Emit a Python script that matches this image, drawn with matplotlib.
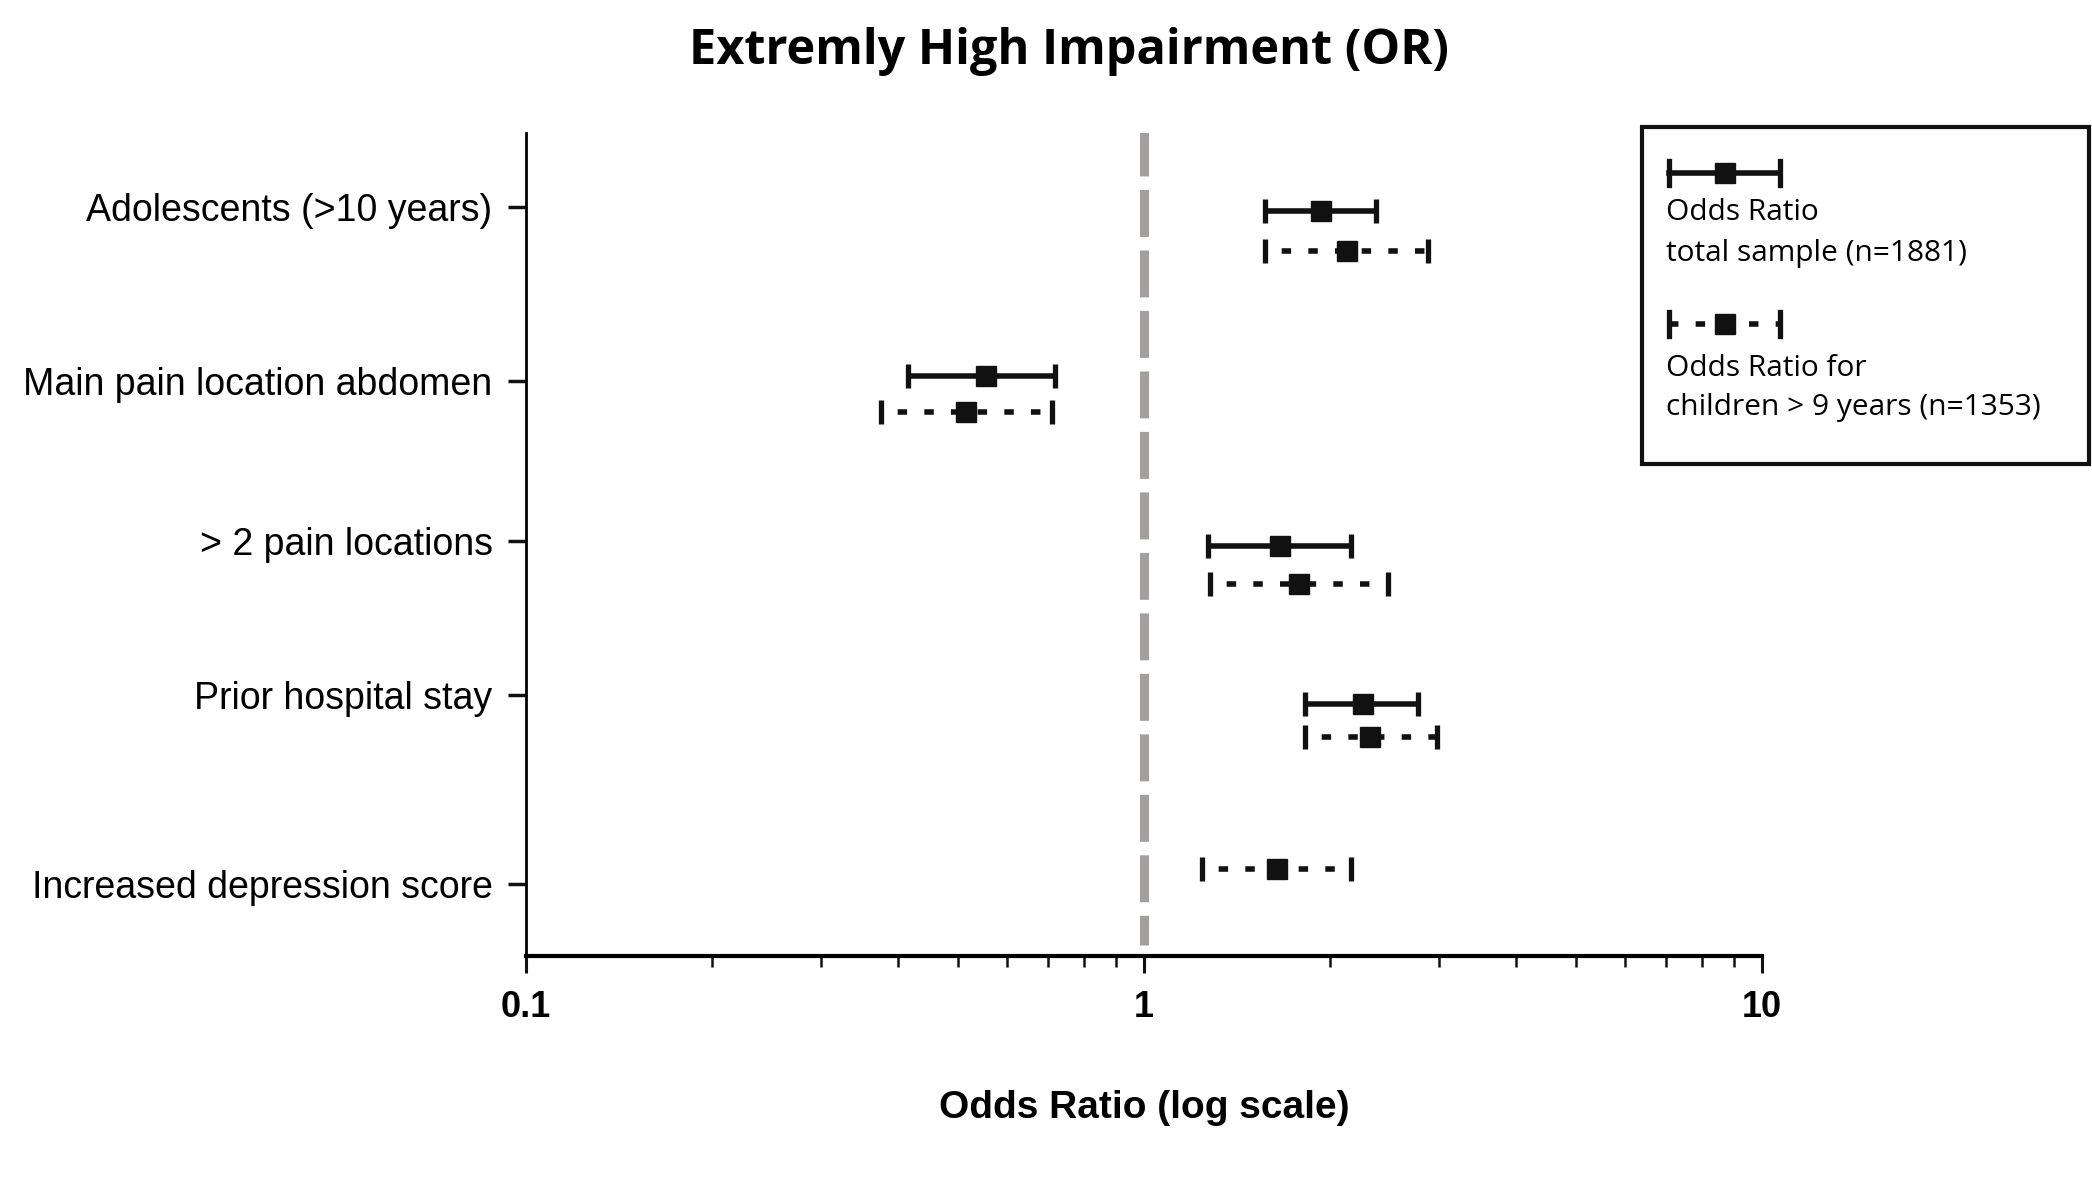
import matplotlib
matplotlib.use("Agg")
import matplotlib.pyplot as plt
from matplotlib.patches import Rectangle
from matplotlib.lines import Line2D

# rows (y positions in row units, 0 = first row)
categories = ["Adolescents (>10 years)", "Main pain location abdomen",
              "> 2 pain locations", "Prior hospital stay",
              "Increased depression score"]
cat_pos = [0.0, 1.0, 1.92, 2.81, 3.90]

# total sample (n=1881)
tot_y = [0.02, 0.97, 1.95, 2.86]
tot_or = [1.93, 0.556, 1.66, 2.26]
tot_lo = [1.57, 0.415, 1.27, 1.82]
tot_hi = [2.37, 0.717, 2.16, 2.78]

# children > 9 years (n=1353)
old_y = [0.25, 1.18, 2.17, 3.05, 3.81]
old_or = [2.13, 0.516, 1.78, 2.32, 1.64]
old_lo = [1.57, 0.376, 1.28, 1.82, 1.24]
old_hi = [2.88, 0.71, 2.48, 2.98, 2.16]

plt.rcParams["font.family"] = ["Liberation Sans", "DejaVu Sans"]

fig = plt.figure(figsize=(20.92, 11.96), dpi=100)
ax = fig.add_axes([0.2514, 0.2003, 0.8423 - 0.2514, 0.889 - 0.2003])

ax.set_xscale("log")
ax.set_xlim(0.1, 10)
ax.set_ylim(4.315, -0.43)

# reference line at OR = 1
ax.plot([1, 1], [-0.45, 4.25], color="#a39f9f", lw=6.5,
        dashes=(5.2, 1.5), solid_capstyle="butt", dash_capstyle="butt", zorder=1)

cap = 0.07
ink = "#111111"
# solid bars
ax.hlines(tot_y, tot_lo, tot_hi, color=ink, lw=4.0, zorder=3)
for y, lo, hi in zip(tot_y, tot_lo, tot_hi):
    ax.vlines([lo, hi], y - cap, y + cap, color=ink, lw=3.8, zorder=3)
ax.plot(tot_or, tot_y, "s", color=ink, ms=14, zorder=4)

# dotted bars
ax.hlines(old_y, old_lo, old_hi, color=ink, lw=4.0,
          linestyles=[(-3.0, (1.7, 3.1))], zorder=3)
for y, lo, hi in zip(old_y, old_lo, old_hi):
    ax.vlines([lo, hi], y - cap, y + cap, color=ink, lw=3.8, zorder=3)
ax.plot(old_or, old_y, "s", color=ink, ms=14, zorder=4)

ax.set_yticks(cat_pos)
ax.set_yticklabels(categories, fontsize=27)
ax.set_xticks([0.1, 1, 10])
ax.set_xticklabels(["0.1", "1", "10"], fontsize=26, fontweight="bold")
ax.tick_params(axis="y", length=13, width=2.5, pad=11, color=ink)
ax.tick_params(axis="x", which="major", length=12, width=2.2, pad=12, color=ink)
ax.tick_params(axis="x", which="minor", length=8, width=1.8, color=ink)

for s in ["top", "right"]:
    ax.spines[s].set_visible(False)
ax.spines["left"].set_linewidth(2.0)
ax.spines["bottom"].set_linewidth(3.0)

ax.set_xlabel("Odds Ratio (log scale)", fontsize=28, fontweight="bold", labelpad=47)

fig.text(0.511, 0.957, "Extremly High Impairment (OR)", ha="center", va="center",
         fontsize=35, fontweight="bold", family=["Open Sans", "DejaVu Sans"])

# legend box
fig.patches.append(Rectangle((0.785, 0.612), 0.2135, 0.282, transform=fig.transFigure,
                             fill=False, lw=3.0, edgecolor=ink))
lx0, lx1 = 0.798, 0.851
lxm = (lx0 + lx1) / 2
fig.lines.append(Line2D([lx0, lx1], [0.855, 0.855], transform=fig.transFigure,
                        color=ink, lw=4.0))
for x in (lx0, lx1):
    fig.lines.append(Line2D([x, x], [0.845, 0.865], transform=fig.transFigure,
                            color=ink, lw=3.8))
fig.lines.append(Line2D([lxm], [0.855], transform=fig.transFigure, marker="s",
                        ms=14, color=ink))
fig.lines.append(Line2D([lx0, lx1], [0.729, 0.729], transform=fig.transFigure,
                        color=ink, lw=4.0, dashes=(1.7, 3.1), dash_capstyle="butt"))
for x in (lx0, lx1):
    fig.lines.append(Line2D([x, x], [0.719, 0.739], transform=fig.transFigure,
                            color=ink, lw=3.8))
fig.lines.append(Line2D([lxm], [0.729], transform=fig.transFigure, marker="s",
                        ms=14, color=ink))

leg_font = dict(fontsize=21.5, family=["Open Sans", "DejaVu Sans"], va="center", ha="left")
fig.text(0.7965, 0.822, "Odds Ratio", **leg_font)
fig.text(0.7965, 0.788, "total sample (n=1881)", **leg_font)
fig.text(0.7965, 0.692, "Odds Ratio for", **leg_font)
fig.text(0.7965, 0.659, "children > 9 years (n=1353)", **leg_font)

fig.savefig("out.png", dpi=100)
